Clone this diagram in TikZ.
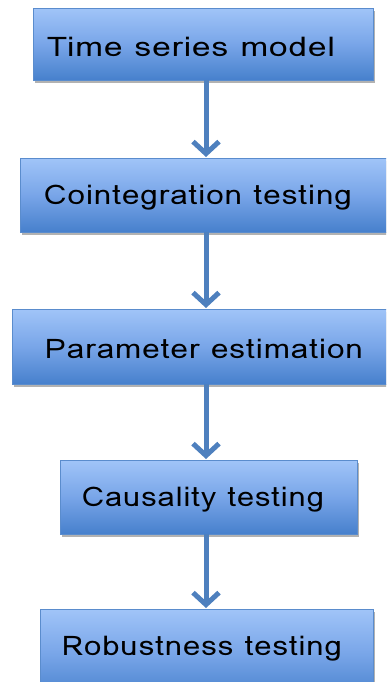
\documentclass[tikz,border=0pt]{standalone}
\usepackage{fontspec}
\newfontfamily\boxfont[LetterSpace=3]{Loma}
\usetikzlibrary{arrows.meta,shadows}
\definecolor{topblue}{RGB}{160,196,248}
\definecolor{botblue}{RGB}{70,128,204}
\definecolor{edgeblue}{RGB}{90,140,205}
\definecolor{arrowblue}{RGB}{78,128,190}
\newcommand{\widetext}[2]{\resizebox{#1pt}{\height}{#2}}
\tikzset{
  stagebox/.style={draw=edgeblue, line width=0.8pt, top color=topblue, bottom color=botblue,
    middle color={rgb,255:red,120;green,165;blue,232},
    drop shadow={shadow xshift=1.5pt, shadow yshift=-3pt, fill=black, opacity=0.3},
    inner sep=0pt, anchor=north west},
  stagetext/.style={font=\boxfont\fontsize{27}{29}\selectfont, text=black, inner sep=0pt},
  flowarrow/.style={draw=arrowblue, line width=5pt, -{Straight Barb[length=12pt,width=26pt,line width=5pt]}, shorten >=1pt}
}
\begin{document}
\begin{tikzpicture}[x=1pt,y=-1pt]
\useasboundingbox (0,0) rectangle (386,682);
\clip (0,0) rectangle (386,682);
\node[stagebox, minimum width=340pt, minimum height=72pt] (b1) at (33,8) {};
\node[stagebox, minimum width=372pt, minimum height=74pt] (b2) at (20,158) {};
\node[stagebox, minimum width=380pt, minimum height=75pt] (b3) at (12,309) {};
\node[stagebox, minimum width=297pt, minimum height=74pt] (b4) at (60,460) {};
\node[stagebox, minimum width=333pt, minimum height=90pt] (b5) at (40,609) {};
\node[stagetext] (t1) at (191,47) {\widetext{288}{Time series model}};
\node[stagetext] (t2) at (198,198) {\widetext{308}{Cointegration testing}};
\node[stagetext] (t3) at (204,349) {\widetext{318}{Parameter estimation}};
\node[stagetext] (t4) at (203,500) {\widetext{242}{Causality testing}};
\node[stagetext] (t5) at (202,649) {\widetext{280}{Robustness testing}};
\coordinate (a1s) at (206,80); \coordinate (a1e) at (206,158);
\coordinate (a2s) at (206,232); \coordinate (a2e) at (206,309);
\coordinate (a3s) at (206,384); \coordinate (a3e) at (206,460);
\coordinate (a4s) at (206,534); \coordinate (a4e) at (206,609);
\draw[flowarrow] (a1s) -- (a1e);
\draw[flowarrow] (a2s) -- (a2e);
\draw[flowarrow] (a3s) -- (a3e);
\draw[flowarrow] (a4s) -- (a4e);
\end{tikzpicture}
\end{document}
